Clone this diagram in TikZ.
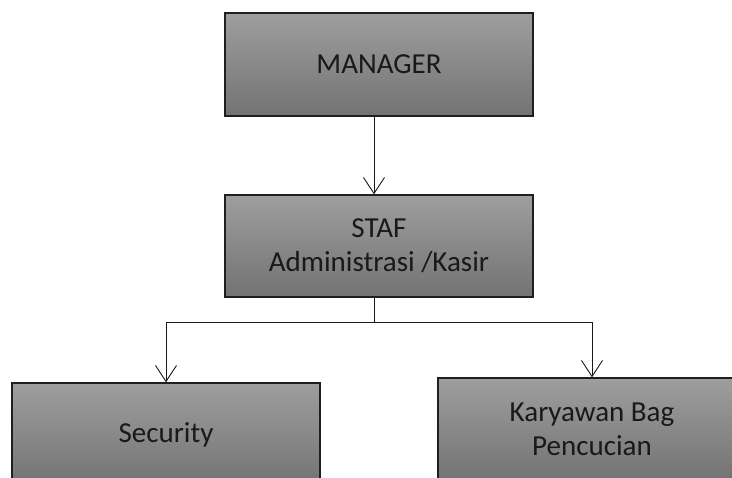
\documentclass[tikz,border=0pt]{standalone}
\usepackage{fontspec}
\setmainfont{Carlito}
\usetikzlibrary{arrows.meta}
\tikzset{
  orgbox/.style={draw=black!88, line width=1.4pt, top color=black!38, bottom color=black!55,
    minimum width=308pt, minimum height=103pt, inner sep=0pt, align=center,
    font=\fontsize{29}{34}\selectfont, text=black!90},
  conn/.style={line width=0.9pt, draw=black!90},
  arr/.style={conn, -{Straight Barb[length=16pt, width=21pt, line width=0.9pt]}}
}
\begin{document}
\begin{tikzpicture}[x=1pt, y=1pt]
\useasboundingbox (0,0) rectangle (732,478);
\clip (0,0) rectangle (732,478);
\fill[white] (0,0) rectangle (732,478);
\node[orgbox] (mgr) at (379,413.5) {MANAGER};
\node[orgbox, minimum height=102pt] (staf) at (379,232) {STAF\\Administrasi /Kasir};
\node[orgbox] (sec) at (166,43.5) {\raisebox{-5pt}{Security}};
\node[orgbox] (kar) at (592,48.5) {\raisebox{-10pt}{\parbox{300pt}{\centering Karyawan Bag\\Pencucian}}};
\draw[arr] ([xshift=-5pt]mgr.south) -- ([xshift=-5pt]staf.north);
\draw[conn] ([xshift=-5pt]staf.south) -- ++(0,-25) coordinate (j);
\draw[arr] (j) -| (sec.north);
\draw[arr] (j) -| (kar.north);
\end{tikzpicture}
\end{document}
